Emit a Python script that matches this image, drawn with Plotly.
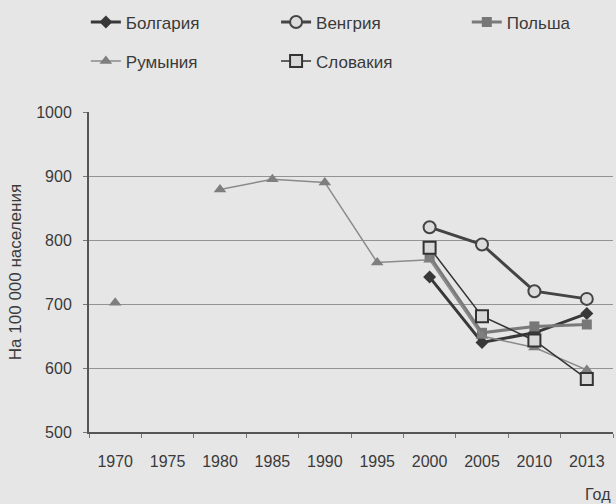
import plotly.graph_objects as go

years = ['1970', '1975', '1980', '1985', '1990', '1995', '2000', '2005', '2010', '2013']

bulgaria = [None, None, None, None, None, None, 742, 640, 655, 685]
hungary = [None, None, None, None, None, None, 820, 793, 720, 708]
poland = [None, None, None, None, None, None, 775, 655, 665, 668]
romania = [702, None, 879, 895, 890, 765, 769, 650, 632, 597]
slovakia = [None, None, None, None, None, None, 788, 681, 643, 583]

bg = '#e6e6e6'
txt = '#3a3a3a'
fnt = 'Liberation Sans, Arial'

fig = go.Figure()

fig.add_trace(go.Scatter(
    x=years, y=bulgaria, name='Болгария', mode='lines+markers',
    line=dict(color='#383838', width=3),
    marker=dict(symbol='diamond', size=10, color='#383838'),
    legend='legend'
))
fig.add_trace(go.Scatter(
    x=years, y=hungary, name='Венгрия', mode='lines+markers',
    line=dict(color='#444444', width=3),
    marker=dict(symbol='circle', size=12, color='#dcdcdc', line=dict(color='#444444', width=2)),
    legend='legend2'
))
fig.add_trace(go.Scatter(
    x=years, y=poland, name='Польша', mode='lines+markers',
    line=dict(color='#7a7a7a', width=3),
    marker=dict(symbol='square', size=10, color='#777777'),
    legend='legend3'
))
fig.add_trace(go.Scatter(
    x=years, y=romania, name='Румыния', mode='lines+markers',
    line=dict(color='#8a8a8a', width=1.5),
    marker=dict(symbol='triangle-up', size=11, color='#7e7e7e'),
    connectgaps=False,
    legend='legend4'
))
fig.add_trace(go.Scatter(
    x=years, y=slovakia, name='Словакия', mode='lines+markers',
    line=dict(color='#333333', width=1.5),
    marker=dict(symbol='square', size=12, color='#d8d8d8', line=dict(color='#333333', width=2)),
    legend='legend5'
))

#one legend box per entry so each sits where the original puts it
def leg(x, y):
    return dict(
        x=x, y=y, xanchor='left', yanchor='middle', orientation='h',
        bgcolor='rgba(0,0,0,0)', font=dict(family=fnt, size=17, color=txt)
    )

fig.update_layout(
    width=616, height=504,
    showlegend=True,
    paper_bgcolor=bg, plot_bgcolor=bg,
    margin=dict(l=89, r=3, t=112, b=72),
    font=dict(family=fnt, size=16, color=txt),
    legend=leg(-0.006, 1.28),
    legend2=leg(0.357, 1.28),
    legend3=leg(0.721, 1.28),
    legend4=leg(-0.006, 1.158),
    legend5=leg(0.357, 1.158),
    xaxis=dict(
        type='category', range=[-0.5, 9.5], automargin=False,
        showgrid=False, showline=True, linecolor='#555555', linewidth=2,
        ticks='outside', tickson='boundaries', ticklen=4, tickcolor='#777777',
        tickfont=dict(size=16, color=txt), ticklabelstandoff=14
    ),
    yaxis=dict(
        range=[500, 1000], dtick=100, automargin=False,
        showgrid=True, gridcolor='#939393', gridwidth=1,
        showline=True, linecolor='#555555', linewidth=2,
        ticks='outside', ticklen=4, tickcolor='#777777',
        tickfont=dict(size=16, color=txt), ticklabelstandoff=8,
        zeroline=False,
        title=dict(text='На 100 000 населения', font=dict(size=17, color=txt), standoff=10)
    ),
    annotations=[dict(
        text='Год', xref='paper', yref='paper', x=1.0, y=-0.195,
        xanchor='right', yanchor='middle', showarrow=False,
        font=dict(size=16, color=txt)
    )]
)

fig.write_html('out.html', config={'displayModeBar': False},
               post_script="document.body.style.margin='0';")
